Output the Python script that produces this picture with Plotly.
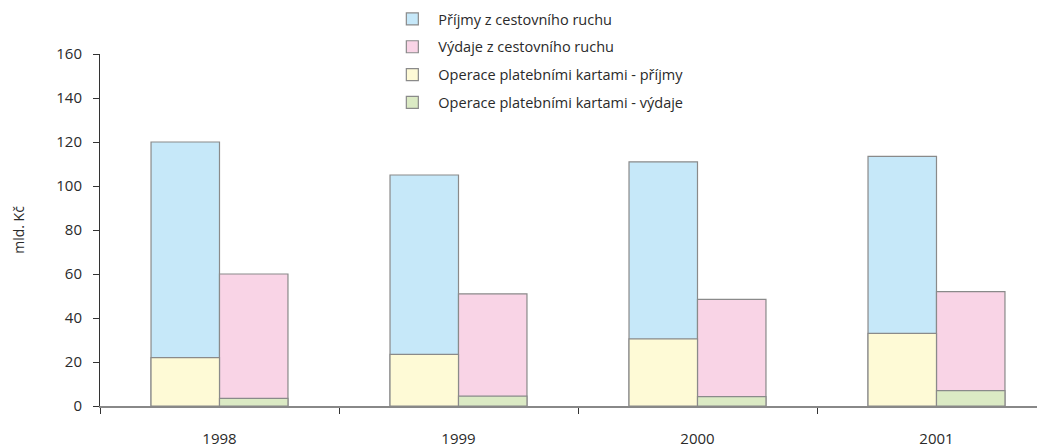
import plotly.graph_objects as go

years = ["1998", "1999", "2000", "2001"]
receipts = [120, 105, 111, 113.5]
expenditures = [60, 51, 48.5, 52]
card_receipts = [22, 23.5, 30.5, 33]
card_expenditures = [3.5, 4.5, 4.3, 7]

names = ["Příjmy z cestovního ruchu", "Výdaje z cestovního ruchu",
         "Operace platebními kartami - příjmy", "Operace platebními kartami - výdaje"]
colors = ["#c6e8f9", "#f9d4e6", "#fefad6", "#dbeac4"]
line_col = "#8a8a8a"

fig = go.Figure()
series = [(receipts, "A"), (expenditures, "B"), (card_receipts, "A"), (card_expenditures, "B")]
for i, ((vals, grp), name, col) in enumerate(zip(series, names, colors)):
    fig.add_trace(go.Bar(x=years, y=vals, name=name, offsetgroup=grp, legendgroup=f"g{i}",
                         marker=dict(color=col, line=dict(color=line_col, width=1.2))))

# page body has an 8px default margin, so the figure is 8px smaller than the window
fig.update_layout(
    barmode="group", bargap=0.427, bargroupgap=0,
    width=1037, height=440,
    margin=dict(l=92, r=0, t=46, b=42, autoexpand=False),
    plot_bgcolor="white", paper_bgcolor="white",
    font=dict(family="Open Sans", size=13, color="#2a2a2a"),
    legend=dict(x=0.303, y=1.145, xanchor="left", yanchor="top",
                font=dict(size=14.5), traceorder="grouped", tracegroupgap=6,
                itemwidth=42),
    showlegend=True,
)
fig.update_xaxes(range=[-0.5, 3.454], showline=True, linecolor="#888", linewidth=1.5,
                 ticks="outside", tickson="boundaries", ticklen=6, tickcolor="#333",
                 ticklabelstandoff=18, showgrid=False, tickfont=dict(size=15))
fig.update_yaxes(range=[0, 160], dtick=20, showline=True, linecolor="#333", linewidth=1,
                 ticks="outside", ticklen=6, tickcolor="#333", showgrid=False, zeroline=False,
                 ticklabelstandoff=8,
                 title=dict(text="mld. Kč", standoff=28, font=dict(size=14)),
                 tickfont=dict(size=15))

fig.write_html("out.html")
